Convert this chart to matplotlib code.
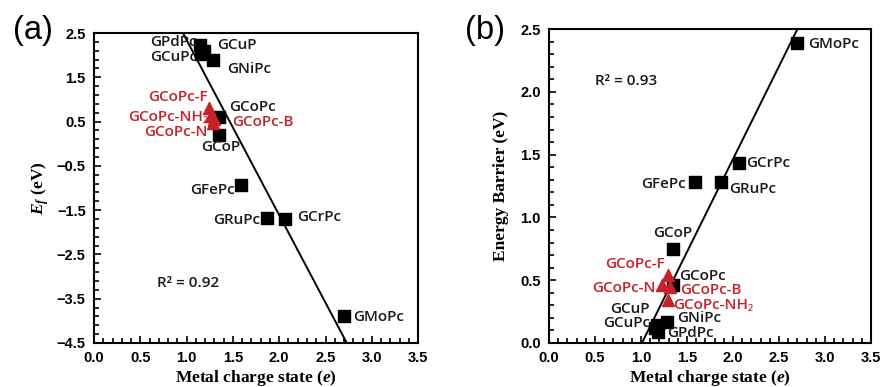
import numpy as np
import matplotlib
matplotlib.use('Agg')
import matplotlib.pyplot as plt
from matplotlib.ticker import FixedLocator, FuncFormatter

plt.rcParams['mathtext.fontset'] = 'custom'
plt.rcParams['mathtext.it'] = 'Liberation Serif:italic:bold'
plt.rcParams['mathtext.rm'] = 'Liberation Serif:bold'

# ---- data (a): formation energy vs metal charge ----
a_names = ['GPdPc', 'GCuP', 'GCuPc', 'GNiPc', 'GCoPc', 'GCoP', 'GFePc', 'GRuPc', 'GCrPc', 'GMoPc']
a_x = [1.14, 1.19, 1.16, 1.29, 1.35, 1.35, 1.59, 1.87, 2.06, 2.70]
a_y = [2.23, 2.10, 2.03, 1.89, 0.60, 0.20, -0.93, -1.67, -1.70, -3.89]
a_red_names = ['GCoPc-F', 'GCoPc-NH₂', 'GCoPc-N', 'GCoPc-B']
a_red_x = [1.24, 1.26, 1.28, 1.30]
a_red_y = [0.80, 0.62, 0.47, 0.55]
a_fit_x = [0.96, 2.73]
a_fit_y = [2.50, -4.50]

# ---- data (b): energy barrier vs metal charge ----
b_names = ['GMoPc', 'GCrPc', 'GRuPc', 'GFePc', 'GCoP', 'GCoPc', 'GNiPc', 'GCuP', 'GCuPc', 'GPdPc']
b_x = [2.70, 2.07, 1.87, 1.59, 1.35, 1.35, 1.28, 1.17, 1.15, 1.19]
b_y = [2.39, 1.43, 1.28, 1.28, 0.75, 0.46, 0.17, 0.14, 0.12, 0.09]
b_red_names = ['GCoPc-F', 'GCoPc-N', 'GCoPc-B', 'GCoPc-NH₂']
b_red_x = [1.29, 1.23, 1.32, 1.29]
b_red_y = [0.54, 0.46, 0.45, 0.34]
b_fit_x = [1.01, 2.70]
b_fit_y = [0.00, 2.50]

x_ticks = [0.0, 0.5, 1.0, 1.5, 2.0, 2.5, 3.0, 3.5]
ya_ticks = [-4.5, -3.5, -2.5, -1.5, -0.5, 0.5, 1.5, 2.5]
yb_ticks = [0.0, 0.5, 1.0, 1.5, 2.0, 2.5]

# label anchor positions (x, y, ha)
a_lab = {'GPdPc': (1.11, 2.30, 'right'), 'GCuP': (1.33, 2.23, 'left'),
         'GCuPc': (1.11, 1.96, 'right'), 'GNiPc': (1.44, 1.69, 'left'),
         'GCoPc': (1.46, 0.83, 'left'), 'GCoP': (1.37, -0.07, 'center'),
         'GFePc': (1.52, -1.04, 'right'), 'GRuPc': (1.79, -1.72, 'right'),
         'GCrPc': (2.19, -1.65, 'left'), 'GMoPc': (2.80, -3.91, 'left')}
a_red_lab = {'GCoPc-F': (1.23, 1.06, 'right'), 'GCoPc-NH₂': (1.23, 0.60, 'right'),
             'GCoPc-N': (1.23, 0.27, 'right'), 'GCoPc-B': (1.49, 0.49, 'left')}
b_lab = {'GMoPc': (2.82, 2.38, 'left'), 'GCrPc': (2.14, 1.43, 'left'),
         'GRuPc': (1.96, 1.23, 'left'), 'GFePc': (1.49, 1.27, 'right'),
         'GCoP': (1.35, 0.88, 'center'), 'GCoPc': (1.42, 0.53, 'left'),
         'GNiPc': (1.39, 0.20, 'left'), 'GCuP': (1.09, 0.27, 'right'),
         'GCuPc': (1.10, 0.16, 'right'), 'GPdPc': (1.28, 0.08, 'left')}
b_red_lab = {'GCoPc-F': (1.26, 0.63, 'right'), 'GCoPc-N': (1.16, 0.44, 'right'),
             'GCoPc-B': (1.43, 0.42, 'left'), 'GCoPc-NH₂': (1.35, 0.30, 'left')}

red = '#C62229'
dark = '#1a1a1a'
lab_font = ['Open Sans', 'Noto Sans', 'DejaVu Sans']
lab_size = 11

fig = plt.figure(figsize=(8.83, 3.87), dpi=100)
ax1 = fig.add_axes([0.1065, 0.1137, 0.367, 0.801])
ax2 = fig.add_axes([0.6217, 0.1137, 0.3647, 0.811])

fmt = FuncFormatter(lambda v, p: f'{v:.1f}'.replace('-', '\u2212'))


def style(ax, ymin, ymax, ymajor, ystep):
    ax.set_xlim(0, 3.5)
    ax.set_ylim(ymin, ymax)
    ax.xaxis.set_major_locator(FixedLocator(x_ticks))
    ax.xaxis.set_minor_locator(FixedLocator(np.arange(0, 3.51, 0.1)))
    ax.yaxis.set_major_locator(FixedLocator(ymajor))
    ax.yaxis.set_minor_locator(FixedLocator(np.arange(ymin, ymax + 0.01, ystep)))
    ax.xaxis.set_major_formatter(fmt)
    ax.yaxis.set_major_formatter(fmt)
    ax.tick_params(which='both', direction='in', top=False, right=False, width=1.2)
    ax.tick_params(which='major', length=5, pad=6)
    ax.tick_params(which='minor', length=3.5)
    for s in ax.spines.values():
        s.set_linewidth(1.5)
    for t in ax.get_xticklabels() + ax.get_yticklabels():
        t.set_fontfamily('Liberation Sans')
        t.set_fontweight('bold')
        t.set_fontsize(10.5)
    ax.set_xlabel('Metal charge state ($e$)', family='Liberation Serif',
                  weight='bold', fontsize=12.5, labelpad=2)


def labels(ax, names, pos, color):
    for n in names:
        x, y, ha = pos[n]
        ax.text(x, y, n, ha=ha, va='center', fontsize=lab_size, family=lab_font,
                color=color, weight='semibold')


# panel a
ax1.plot(a_fit_x, a_fit_y, color='black', lw=1.4, zorder=1)
ax1.scatter(a_x, a_y, marker='s', s=75, color='black', zorder=3)
ax1.scatter(a_red_x, a_red_y, marker='^', s=75, color=red, zorder=4)
style(ax1, -4.5, 2.5, ya_ticks, 0.2)
labels(ax1, a_names, a_lab, dark)
labels(ax1, a_red_names, a_red_lab, red)
ax1.text(0.68, -3.14, 'R² = 0.92', ha='left', va='center', fontsize=lab_size,
         family=lab_font, color=dark, weight='semibold')
ax1.set_ylabel('$E_f$ (eV)', family='Liberation Serif', weight='bold', fontsize=12.5, labelpad=4)
fig.text(0.0147, 0.899, '(a)', fontsize=23.5, family='Liberation Sans', va='baseline')

# panel b
ax2.plot(b_fit_x, b_fit_y, color='black', lw=1.4, zorder=1)
ax2.scatter(b_x, b_y, marker='s', s=75, color='black', zorder=3)
ax2.scatter(b_red_x, b_red_y, marker='^', s=75, color=red, zorder=4)
style(ax2, 0, 2.5, yb_ticks, 0.1)
labels(ax2, b_names, b_lab, dark)
labels(ax2, b_red_names, b_red_lab, red)
ax2.text(0.50, 2.09, 'R² = 0.93', ha='left', va='center', fontsize=lab_size,
         family=lab_font, color=dark, weight='semibold')
ax2.set_ylabel('Energy Barrier (eV)', family='Liberation Serif', weight='bold',
               fontsize=12.5, labelpad=8)
fig.text(0.5266, 0.899, '(b)', fontsize=23.5, family='Liberation Sans', va='baseline')

fig.savefig('out.png', dpi=100)
